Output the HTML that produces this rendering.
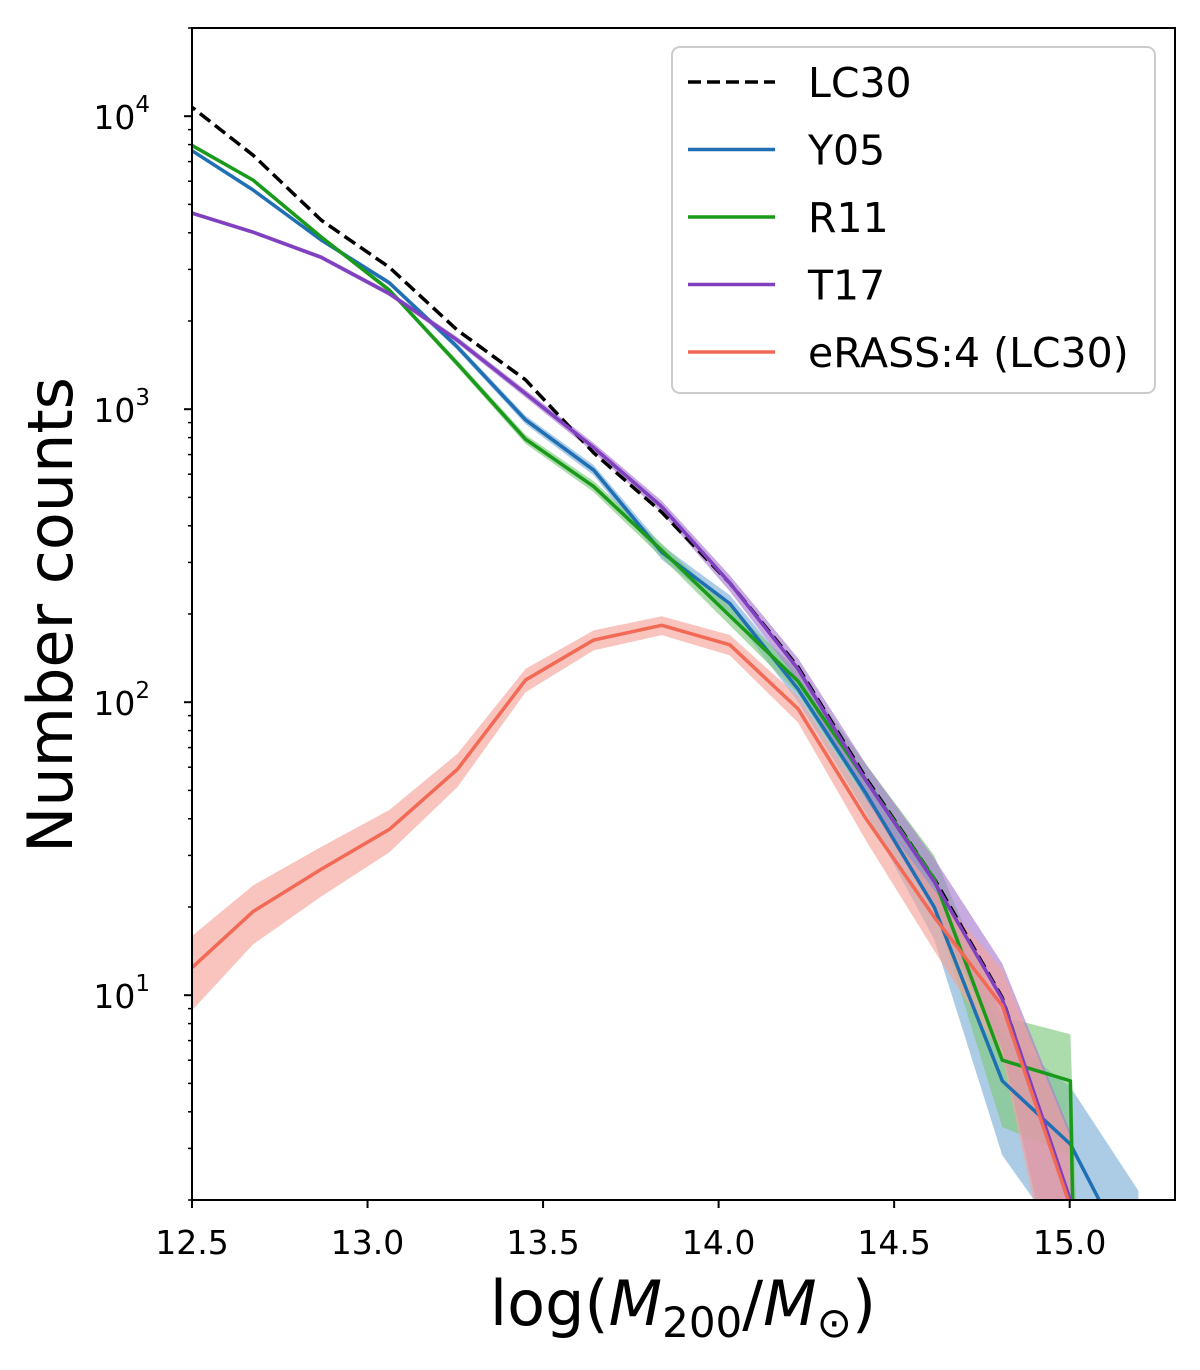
<!DOCTYPE html>
<html><head><meta charset="utf-8"><style>
html,body{margin:0;background:#fff;width:1200px;height:1370px;overflow:hidden}
svg{display:block}
svg text{font-family:"DejaVu Sans","Liberation Sans",sans-serif;fill:#000}
</style></head><body>
<svg id="chart" width="1200" height="1370" xmlns="http://www.w3.org/2000/svg">
<defs><clipPath id="plotclip"><rect x="192" y="28" width="983" height="1172"/></clipPath></defs>
<g id="bands" clip-path="url(#plotclip)"></g>
<g id="lines" clip-path="url(#plotclip)"></g>
<g id="axes"></g>
<g id="legend"></g>
</svg>
<script>
const massBins = [12.48,12.674,12.868,13.062,13.256,13.45,13.644,13.838,14.032,14.226,14.42,14.614,14.808,15.002,15.196];
const lc30 = [11200,7360,4420,3050,1860,1260,710,445,255,132,55,25,9.8,1.9];
const y05 = [7900,5600,3780,2700,1630,920,620,325,217,111,48.8,20,5.1,3.1,1.1];
const r11 = [8200,6050,3870,2550,1430,790,545,330,197,118,54,25,6.0,5.1,1e-12];
const t17 = [4750,4020,3300,2480,1720,1130,740,465,255,130,54,24.4,9.7,2.0];
const erass = [11.8,19.3,26.9,36.8,59,119,163,183,157,95,40,18.5,9.2,1.9];
const xTicks = [12.5,13.0,13.5,14.0,14.5,15.0];
const xTickLabels = ["12.5","13.0","13.5","14.0","14.5","15.0"];
const yTicks = [1,2,3,4];

const NS="http://www.w3.org/2000/svg";
const L=192,R=1175,T=28,B=1200;
const xmin=12.5,xmax=15.3,ymin=Math.log10(2.0),ymax=Math.log10(20000);
function X(v){return L+(v-xmin)/(xmax-xmin)*(R-L);}
function Y(v){const lv=Math.log10(Math.max(v,1e-14));return B-(lv-ymin)/(ymax-ymin)*(B-T);}
function mk(tag,attrs,parent){const e=document.createElementNS(NS,tag);for(const k in attrs)e.setAttribute(k,attrs[k]);parent.appendChild(e);return e;}

const series=[
 {vals:y05,color:"#1f6fb4",band:"#7fb0d8",name:"y05"},
 {vals:r11,color:"#1a9a1a",band:"#80c980",name:"r11"},
 {vals:t17,color:"#8040c0",band:"#a87cd0",name:"t17"},
 {vals:erass,color:"#f26a55",band:"#f4a59a",name:"erass4"},
];
const bands=document.getElementById('bands'),lines=document.getElementById('lines');
series.forEach(s=>{
  let up=[],dn=[];
  s.vals.forEach((v,i)=>{const e=Math.sqrt(v);up.push(X(massBins[i])+","+Y(v+e));dn.unshift(X(massBins[i])+","+Y(Math.max(v-e,1e-3)));});
  const p=mk('polygon',{points:up.concat(dn).join(' '),fill:s.band,'fill-opacity':0.65,stroke:'none'},bands);
  
  
});
series.forEach(s=>{
  const pts=s.vals.map((v,i)=>X(massBins[i])+","+Y(v)).join(' ');
  const l=mk('polyline',{points:pts,fill:'none',stroke:s.color,'stroke-width':3.5,'stroke-linejoin':'round'},lines);
  
  
});
{
  const pts=lc30.map((v,i)=>X(massBins[i])+","+Y(v)).join(' ');
  const l=mk('polyline',{points:pts,fill:'none',stroke:'#000','stroke-width':3.5,'stroke-dasharray':'13,6'},lines);
  
  
  lines.insertBefore(l,lines.firstChild);
}
const axes=document.getElementById('axes');
const frame=mk('rect',{x:L,y:T,width:R-L,height:B-T,fill:'none',stroke:'#000','stroke-width':2},axes);


xTicks.forEach((t,i)=>{
  mk('line',{x1:X(t),x2:X(t),y1:B,y2:B+8,stroke:'#000','stroke-width':2},axes);
  const tx=mk('text',{x:X(t),y:B+54,'text-anchor':'middle','font-size':33},axes);
  tx.textContent=xTickLabels[i];
  
  
});
for(let d=0;d<=4;d++){for(let m=1;m<=9;m++){const v=m*Math.pow(10,d);const y=Y(v);if(y<T-0.5||y>B+0.5)continue;
  if(m===1)continue;mk('line',{x1:L-4,x2:L,y1:y,y2:y,stroke:'#000','stroke-width':1.5},axes);}}
yTicks.forEach(p=>{
  const y=Y(Math.pow(10,p));
  mk('line',{x1:L-8,x2:L,y1:y,y2:y,stroke:'#000','stroke-width':2},axes);
  const tx=mk('text',{x:150,y:y+13,'text-anchor':'end','font-size':33},axes);
  tx.textContent='10';
  const sup=mk('tspan',{dy:-17,'font-size':23},tx);sup.textContent=String(p);
  
  
});
const yl=mk('text',{x:0,y:0,transform:'translate(72,615) rotate(-90)','text-anchor':'middle','font-size':62},axes);
yl.textContent='Number counts';


const xl=mk('text',{x:683,y:1325,'text-anchor':'middle','font-size':62},axes);
xl.innerHTML='log(<tspan font-style="italic">M</tspan><tspan font-size="42" dy="12">200</tspan><tspan dy="-12">/</tspan><tspan font-style="italic">M</tspan><tspan font-size="42" dy="12">⊙</tspan><tspan dy="-12">)</tspan>';



const lg=document.getElementById('legend');
const box=mk('rect',{x:672,y:47,width:483,height:346,rx:8,fill:'#fff','fill-opacity':0.85,stroke:'#ccc','stroke-width':2},lg);


const entries=[["LC30","#000",true],["Y05","#1f6fb4",false],["R11","#1a9a1a",false],["T17","#8040c0",false],["eRASS:4 (LC30)","#f26a55",false]];
entries.forEach((e,i)=>{
  const y=82+i*67.5;
  const g=mk('g',{},lg);
  
  
  const a={x1:688,x2:775,y1:y,y2:y,stroke:e[1],'stroke-width':3.5};if(e[2])a['stroke-dasharray']='13,6';
  mk('line',a,g);
  const t=mk('text',{x:808,y:y+15,'font-size':41},g);t.textContent=e[0];
});
</script>
</body></html>
